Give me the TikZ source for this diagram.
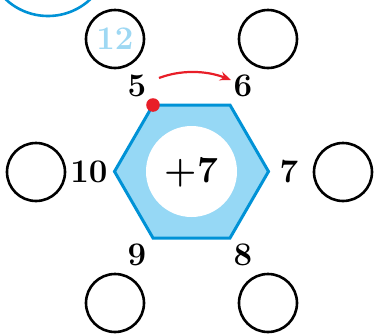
\documentclass[tikz,border=0pt]{standalone}
\usepackage{fontspec}
\usetikzlibrary{arrows.meta,calc}
\definecolor{hexblue}{RGB}{0,146,214}
\definecolor{hexfill}{RGB}{150,216,245}
\definecolor{lblue}{RGB}{158,216,243}
\definecolor{dotred}{RGB}{232,30,40}
\begin{document}
\begin{tikzpicture}[x=1pt,y=-1pt,
  ring/.style={circle,draw=black,line width=2.6pt,minimum size=58pt,inner sep=0pt},
  num/.style={font=\fontsize{33}{33}\selectfont\bfseries,text=black,inner sep=0pt},
]
\useasboundingbox (0,0) rectangle (376,335);
\clip (0,0) rectangle (376,335);
% partial blue circle top-left
\draw[hexblue,line width=2.6pt] (48,-46) circle[radius=62];
% hexagon
\coordinate (hc) at (191.5,171.5);
\draw[hexblue,fill=hexfill,line width=3pt,line join=miter]
  ($(hc)+(-38.5,-66.5)$) coordinate (v5) -- ++(77,0) coordinate (v6)
  -- ($(hc)+(77,0)$) coordinate (v7) -- ($(hc)+(38.5,66.5)$) coordinate (v8)
  -- ($(hc)+(-38.5,66.5)$) coordinate (v9) -- ($(hc)+(-77,0)$) coordinate (v10) -- cycle;
\fill[white] (hc) circle[radius=45.5];
\node[font=\fontsize{37}{37}\selectfont\bfseries,inner sep=0pt] (c) at (191.5,172) {+7};
% rings
\node[ring] (r12) at (115,39) {};
\node[num,text=lblue] (t12) at (115,39) {12};
\node[ring] (r6) at (268,39) {};
\node[ring] (r10) at (36,172) {};
\node[ring] (r7) at (343,172) {};
\node[ring] (r9) at (115,303) {};
\node[ring] (r8) at (268,303) {};
% labels
\node[num] (l5) at (137,86) {5};
\node[num] (l6) at (243,86) {6};
\node[num] (l10) at (89,172) {10};
\node[num] (l7) at (289,172) {7};
\node[num] (l9) at (137,255) {9};
\node[num] (l8) at (243,255) {8};
% red dot and arrow
\fill[dotred] (v5) circle[radius=6.8];
\coordinate (a1) at (159,78);
\coordinate (a2) at (231,80);
\draw[dotred,line width=2.2pt,-{Stealth[length=11pt,width=9pt]}] (a1) .. controls (180,70) and (205,70) .. (a2);
\end{tikzpicture}
\end{document}
